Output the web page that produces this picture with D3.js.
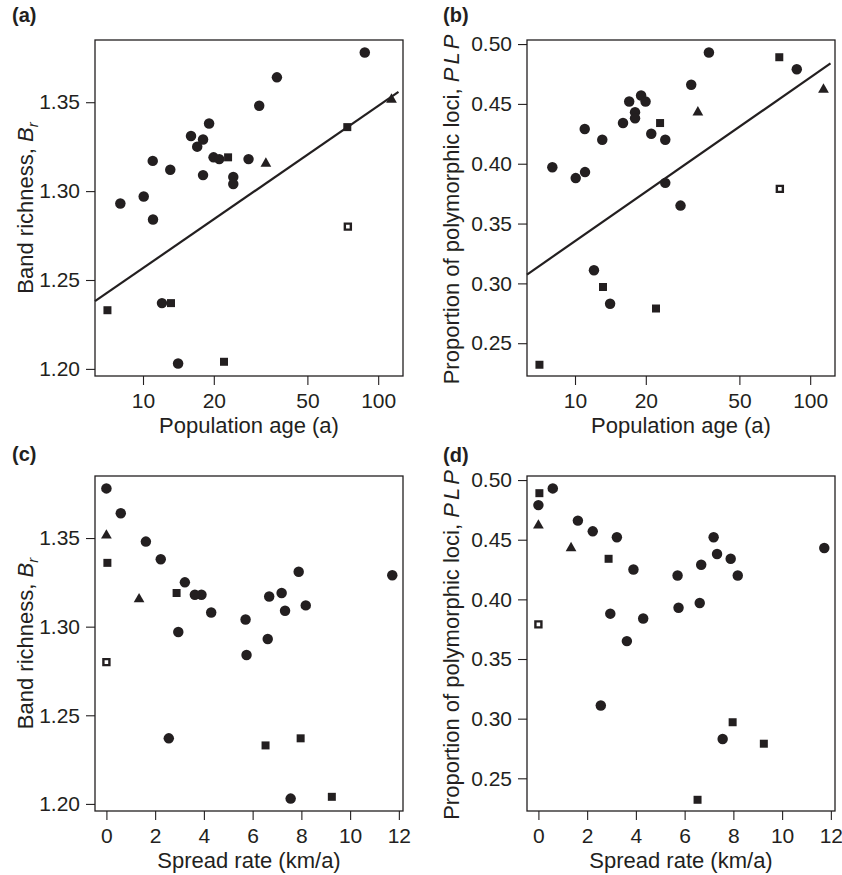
<!DOCTYPE html>
<html>
<head>
<meta charset="utf-8">
<script src="https://cdn.jsdelivr.net/npm/d3@7/dist/d3.min.js"></script>
<style>
  html, body { margin: 0; padding: 0; background: #fff; }
  svg { display: block; }
  text { font-family: "Liberation Sans", Arial, Helvetica, sans-serif; fill: #231f20; }
</style>
</head>
<body>
<script>
// ---- Data (28 populations) ----
const shapes = ["circle","circle","circle","triangle","square","circle","circle","circle","circle","circle",
                "circle","circle","circle","square","circle","triangle","circle","circle","circle","circle",
                "circle","circle","open","circle","square","square","circle","square"];
const populationAge = [87.7, 37.1, 31.2, 113.9, 73.9, 19.1, 16.0, 18.0, 17.0, 11.0,
                       13.06, 19.95, 21.1, 23.0, 28.1, 33.3, 18.0, 24.2, 24.2, 10.07,
                       8.01, 11.03, 74.3, 12.04, 13.15, 7.06, 14.1, 22.1];
const spreadRate = [0.00, 0.59, 1.62, 0.00, 0.04, 2.23, 7.89, 11.73, 3.22, 6.68,
                    8.18, 7.19, 3.90, 2.88, 3.63, 1.34, 7.33, 4.30, 5.71, 2.95,
                    6.62, 5.75, 0.00, 2.56, 7.97, 6.53, 7.56, 9.25];
const bandRichness = [1.378, 1.364, 1.348, 1.3515, 1.336, 1.338, 1.331, 1.329, 1.325, 1.317,
                      1.312, 1.319, 1.318, 1.319, 1.318, 1.3155, 1.309, 1.308, 1.304, 1.297,
                      1.293, 1.284, 1.280, 1.237, 1.237, 1.233, 1.203, 1.204];
const plp = [0.479, 0.493, 0.466, 0.462, 0.489, 0.457, 0.434, 0.443, 0.452, 0.429,
             0.420, 0.452, 0.425, 0.434, 0.365, 0.443, 0.438, 0.384, 0.420, 0.388,
             0.397, 0.393, 0.379, 0.311, 0.297, 0.232, 0.283, 0.279];

// tick values
const ageTicks = [10, 20, 50, 100];
const spreadTicks = [0, 2, 4, 6, 8, 10, 12];
const brTicks = [1.20, 1.25, 1.30, 1.35];
const plpTicks = [0.25, 0.30, 0.35, 0.40, 0.45, 0.50];

// axis domains
const ageDomain = [6.25, 127.5];
const spreadDomain = [-0.468, 12.17];
const brDomain = [1.196, 1.385];
const plpDomain = [0.2226, 0.5034];

// regression fits: value = intercept + slope * log10(age), drawn over fitAgeRange
const fitBr = [1.1655, 0.0912];
const fitPlp = [0.1986, 0.1367];
const fitAgeRange = [6.25, 122];

// ---- Drawing ----
const W = 842, H = 875;
const svg = d3.select("body").append("svg").attr("width", W).attr("height", H);

const ink = "#231f20";
const boxW = 308;
const panels = [
  {label: "(a)", lx: 12, ly: 22, left: 95, top: 40, bottom: 376, xKind: "age", yKind: "br", fit: fitBr},
  {label: "(b)", lx: 443, ly: 22, left: 527, top: 40, bottom: 376, xKind: "age", yKind: "plp", fit: fitPlp},
  {label: "(c)", lx: 12, ly: 461, left: 95, top: 476, bottom: 811, xKind: "spread", yKind: "br"},
  {label: "(d)", lx: 443, ly: 462, left: 527, top: 476, bottom: 811, xKind: "spread", yKind: "plp"}
];

panels.forEach(p => {
  const right = p.left + boxW;
  const x = p.xKind === "age"
    ? d3.scaleLog().domain(ageDomain).range([p.left, right])
    : d3.scaleLinear().domain(spreadDomain).range([p.left, right]);
  const y = p.yKind === "br"
    ? d3.scaleLinear().domain(brDomain).range([p.bottom, p.top])
    : d3.scaleLinear().domain(plpDomain).range([p.bottom, p.top]);

  const g = svg.append("g");

  // panel label
  g.append("text").attr("x", p.lx).attr("y", p.ly)
    .style("font-size", "20px").style("font-weight", "bold").text(p.label);

  // x axis
  const xAxis = d3.axisBottom(x)
    .tickValues(p.xKind === "age" ? ageTicks : spreadTicks)
    .tickFormat(d3.format("d"))
    .tickSize(9).tickPadding(8);
  const gx = g.append("g").attr("transform", `translate(0,${p.bottom})`).call(xAxis);
  gx.select(".domain").remove();
  gx.selectAll("line").attr("stroke", ink).attr("stroke-width", 1.1);
  gx.selectAll("text").style("font-size", "21px").attr("fill", ink);

  // y axis
  const yAxis = d3.axisLeft(y)
    .tickValues(p.yKind === "br" ? brTicks : plpTicks)
    .tickFormat(d3.format(".2f"))
    .tickSize(9).tickPadding(6);
  const gy = g.append("g").attr("transform", `translate(${p.left},0)`).call(yAxis);
  gy.select(".domain").remove();
  gy.selectAll("line").attr("stroke", ink).attr("stroke-width", 1.1);
  gy.selectAll("text").style("font-size", "21px").attr("fill", ink);

  // box
  g.append("rect").attr("x", p.left).attr("y", p.top)
    .attr("width", boxW).attr("height", p.bottom - p.top)
    .attr("fill", "none").attr("stroke", ink).attr("stroke-width", 1.3);

  // x title
  g.append("text")
    .attr("x", (p.left + right) / 2).attr("y", p.bottom + 57)
    .attr("text-anchor", "middle").style("font-size", "22px")
    .text(p.xKind === "age" ? "Population age (a)" : "Spread rate (km/a)");

  // y title
  const cy = (p.top + p.bottom) / 2;
  const tx = p.yKind === "br" ? p.left - 62 : p.left - 68;
  const yt = g.append("text")
    .attr("transform", `translate(${tx},${cy}) rotate(-90)`)
    .attr("text-anchor", "middle").style("font-size", "22px");
  if (p.yKind === "br") {
    yt.append("tspan").text("Band richness, ");
    yt.append("tspan").style("font-style", "italic").text("B");
    yt.append("tspan").style("font-style", "italic").style("font-size", "15px").attr("dy", 5).text("r");
  } else {
    yt.append("tspan").text("Proportion of polymorphic loci, ");
    yt.append("tspan").style("font-style", "italic").style("letter-spacing", "3px").text("PLP");
  }

  // regression line
  if (p.fit) {
    const pts = fitAgeRange.map(a => [x(a), y(p.fit[0] + p.fit[1] * Math.log10(a))]);
    g.append("path").attr("d", d3.line()(pts))
      .attr("stroke", ink).attr("stroke-width", 2.2).attr("fill", "none");
  }

  // points
  const xs = p.xKind === "age" ? populationAge : spreadRate;
  const ys = p.yKind === "br" ? bandRichness : plp;
  const sym = {
    circle: d3.symbol().type(d3.symbolCircle).size(86)(),
    square: d3.symbol().type(d3.symbolSquare).size(64)(),
    triangle: d3.symbol().type(d3.symbolTriangle).size(50)(),
    open: d3.symbol().type(d3.symbolSquare).size(36)()
  };
  shapes.forEach((s, i) => {
    g.append("path")
      .attr("d", sym[s])
      .attr("transform", `translate(${x(xs[i])},${y(ys[i])})`)
      .attr("fill", s === "open" ? "#fff" : ink)
      .attr("stroke", s === "open" ? ink : "none")
      .attr("stroke-width", s === "open" ? 2.4 : 0);
  });
});
</script>
</body>
</html>
